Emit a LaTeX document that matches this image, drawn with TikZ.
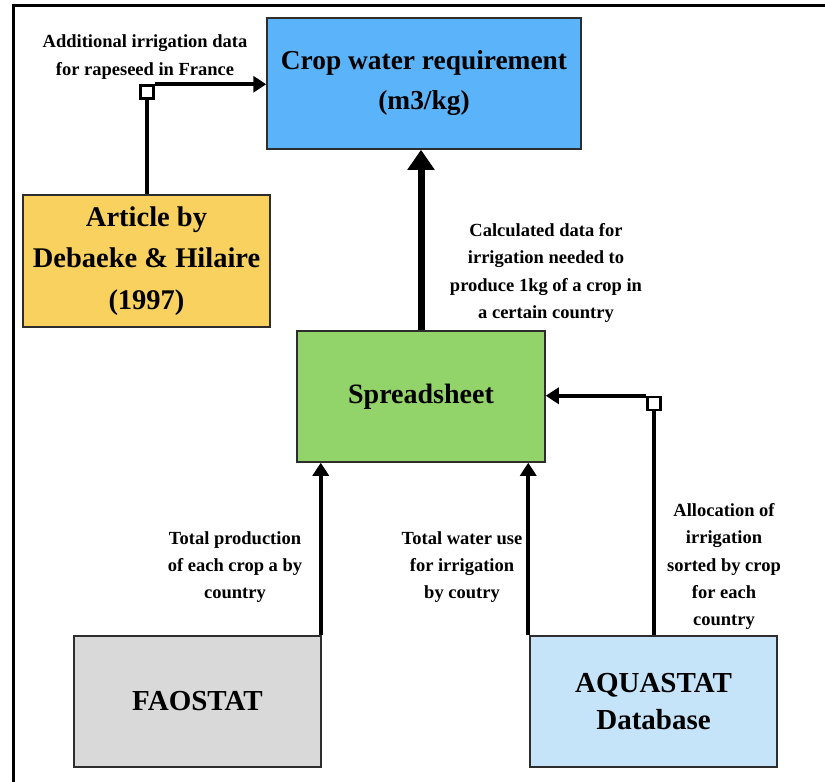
\documentclass[tikz,border=0pt]{standalone}
\usepackage{fontspec}
\setmainfont{Liberation Serif}
\usetikzlibrary{arrows.meta,calc}
\definecolor{cropblue}{RGB}{91,180,249}
\definecolor{artyellow}{RGB}{248,209,95}
\definecolor{sheetgreen}{RGB}{146,211,106}
\definecolor{faogray}{RGB}{217,217,217}
\definecolor{aquablue}{RGB}{198,228,249}
\definecolor{edgegray}{RGB}{45,45,45}
\begin{document}
\begin{tikzpicture}[x=1pt,y=-1pt,
  box/.style={draw=edgegray, line width=1.5pt, rectangle, inner sep=0pt, align=center,
    minimum width=247pt, minimum height=131pt, font=\bfseries\fontsize{28.5}{41.5}\selectfont},
  lbl/.style={align=center, inner sep=0pt, font=\bfseries\fontsize{18.5}{27.3}\selectfont},
  conn/.style={line width=4pt, draw=black},
  tip/.style={-{Triangle[length=13pt,width=16pt]}},
  bigtip/.style={-{Triangle[length=20pt,width=26pt]}},
  knot/.style={draw=black, line width=2.5pt, fill=white, rectangle, minimum size=13pt, inner sep=0pt}]
\useasboundingbox (0,0) rectangle (825,782);
\fill[white] (0,0) rectangle (825,782);
% frame
\draw[line width=3.5pt] (11.75,5.5) -- (825,5.5);
\draw[line width=3.5pt] (13.5,3.75) -- (13.5,782);
% boxes
\node[box, fill=cropblue, minimum width=314pt, font=\bfseries\fontsize{27.4}{40}\selectfont] (crop) at (424,83.5) {Crop water requirement\\(m3/kg)};
\node[box, fill=artyellow, minimum height=132pt] (article) at (146.5,261) {Article by\\Debaeke \& Hilaire\\(1997)};
\node[box, fill=sheetgreen, minimum width=248pt, font=\bfseries\fontsize{28}{40}\selectfont] (spread) at (421,396.5) {Spreadsheet};
\node[box, fill=faogray, font=\bfseries\fontsize{29}{40}\selectfont] (fao) at (197.5,701.5) {FAOSTAT};
\node[box, fill=aquablue, font=\bfseries\fontsize{29}{37}\selectfont] (aqua) at (653.5,701.5) {AQUASTAT\\Database};
% junction squares
\node[knot] (sq1) at (147,92) {};
\node[knot] (sq2) at (654,403.5) {};
% connectors
\draw[conn] (sq1.south) -- (sq1.south |- article.north);
\draw[conn,tip] (sq1.north east) -- (sq1.north east -| crop.west);
\draw[line width=7pt, bigtip] (spread.north) -- (spread.north |- crop.south);
\draw[conn,tip] ([xshift=-1pt]fao.north east) -- ([xshift=-1pt]fao.north east |- spread.south);
\draw[conn,tip] ([xshift=-1pt]aqua.north west) -- ([xshift=-1pt]aqua.north west |- spread.south);
\draw[conn] (sq2.south |- aqua.north) -- (sq2.south);
\draw[conn,tip] (sq2.north west) -- (sq2.north west -| spread.east);
% labels
\node[lbl] (l1) at (145,57) {Additional irrigation data\\for rapeseed in France};
\node[lbl] (l2) at (546,273) {Calculated data for\\irrigation needed to\\produce 1kg of a crop in\\a certain country};
\node[lbl] (l3) at (235,567) {Total production\\of each crop a by\\country};
\node[lbl] (l4) at (462,567) {Total water use\\for irrigation\\by coutry};
\node[lbl] (l5) at (724,566.5) {Allocation of\\irrigation\\sorted by crop\\for each\\country};
\end{tikzpicture}
\end{document}
